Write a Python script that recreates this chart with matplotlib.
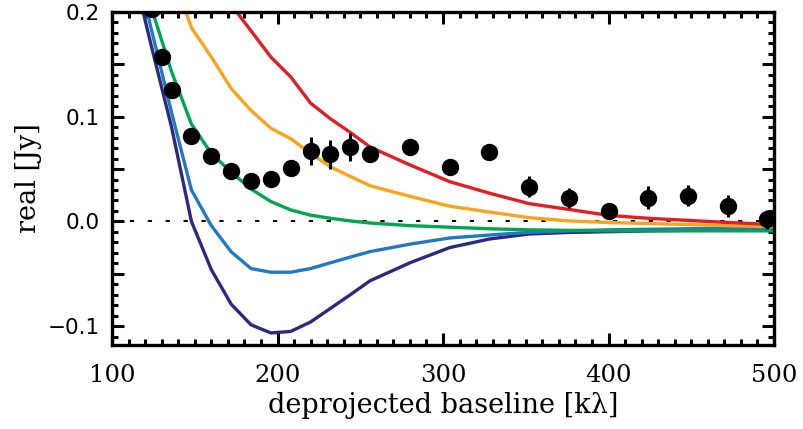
import numpy as np
import matplotlib
matplotlib.use("Agg")
import matplotlib.pyplot as plt
from matplotlib.ticker import MultipleLocator, FuncFormatter

# observed visibilities (real part)
uv = [124, 130, 136, 148, 160, 172, 184, 196, 208, 220, 232, 244, 256,
      280, 304, 328, 352, 376, 400, 424, 448, 472, 496]
re_obs = [0.203, 0.157, 0.1255, 0.082, 0.0625, 0.048, 0.039, 0.041, 0.051,
          0.067, 0.064, 0.071, 0.064, 0.071, 0.052, 0.0667, 0.0333, 0.0226,
          0.0097, 0.0226, 0.0246, 0.015, 0.002]
re_err = [0.006, 0.006, 0.006, 0.006, 0.006, 0.006, 0.006, 0.006, 0.006,
          0.0135, 0.0135, 0.013, 0.007, 0.006, 0.006, 0.006, 0.01, 0.0093,
          0.006, 0.011, 0.01, 0.0105, 0.009]

# model curves, sampled on the same grid
uv_mod = [112, 124, 136, 148, 160, 172, 184, 196, 208, 220, 232, 244, 256,
          280, 304, 328, 352, 376, 400, 424, 448, 472, 500]
mod_red = [0.40, 0.34, 0.29, 0.25, 0.235, 0.207, 0.182, 0.157, 0.138, 0.113,
           0.098, 0.085, 0.071, 0.054, 0.038, 0.027, 0.017, 0.0115, 0.0058,
           0.003, 0.001, -0.001, -0.003]
mod_orange = [0.36, 0.30, 0.24, 0.185, 0.157, 0.127, 0.106, 0.089, 0.079,
              0.065, 0.052, 0.043, 0.034, 0.024, 0.0146, 0.009, 0.0036,
              0.0005, -0.001, -0.002, -0.003, -0.004, -0.005]
mod_green = [0.28, 0.203, 0.143, 0.093, 0.065, 0.047, 0.031, 0.019, 0.011,
             0.006, 0.003, 0.0005, -0.0015, -0.004, -0.0055, -0.007, -0.008,
             -0.0085, -0.009, -0.009, -0.009, -0.009, -0.009]
mod_blue = [0.26, 0.182, 0.104, 0.030, -0.004, -0.029, -0.045, -0.0485,
            -0.0485, -0.045, -0.0395, -0.034, -0.0288, -0.0217, -0.0158,
            -0.013, -0.0104, -0.009, -0.008, -0.0075, -0.007, -0.0065, -0.006]
mod_navy = [0.245, 0.166, 0.09, 0.0, -0.046, -0.079, -0.0987, -0.1065,
            -0.105, -0.096, -0.083, -0.070, -0.0566, -0.0395, -0.025, -0.0168,
            -0.012, -0.0105, -0.0098, -0.009, -0.0085, -0.008, -0.008]

fig = plt.figure(figsize=(8.04, 4.29), dpi=100)
ax = fig.add_axes([0.1393, 0.1958, 0.8234, 0.7762])

ax.axhline(0, color='k', lw=1.4, ls=(0, (2.2, 7.0)), zorder=1)

lw = 2.4
ax.plot(uv_mod, mod_navy, color='#2b2a80', lw=lw, zorder=2)
ax.plot(uv_mod, mod_blue, color='#2079c5', lw=lw, zorder=2)
ax.plot(uv_mod, mod_green, color='#00a651', lw=lw, zorder=2)
ax.plot(uv_mod, mod_orange, color='#f9a51b', lw=lw, zorder=2)
ax.plot(uv_mod, mod_red, color='#e31d25', lw=lw, zorder=2)

ax.errorbar(uv, re_obs, yerr=re_err, fmt='o', color='k', ms=11.5,
            elinewidth=2.2, capsize=0, zorder=3, clip_on=True)

ax.set_xlim(100, 500)
ax.set_ylim(-0.118, 0.2)

ax.xaxis.set_major_locator(MultipleLocator(100))
ax.xaxis.set_minor_locator(MultipleLocator(10))
ax.yaxis.set_major_locator(MultipleLocator(0.05))
ax.yaxis.set_minor_locator(MultipleLocator(0.01))

def ylab(v, pos):
    if abs(round(v / 0.1) * 0.1 - v) < 1e-6:
        s = "%.1f" % v
        if s == "-0.0":
            s = "0.0"
        return s.replace("-", "\u2212")
    return ""

ax.yaxis.set_major_formatter(FuncFormatter(ylab))

ax.tick_params(which='both', direction='in', top=True, right=True, width=2.2)
ax.tick_params(which='major', length=8.5)
ax.tick_params(which='minor', length=4.5)
ax.tick_params(axis='x', pad=14)
ax.tick_params(axis='y', pad=9)

for sp in ax.spines.values():
    sp.set_linewidth(2.4)

for t in ax.get_xticklabels():
    t.set_fontfamily('DejaVu Serif')
    t.set_fontsize(17.5)
for t in ax.get_yticklabels():
    t.set_fontfamily('DejaVu Sans')
    t.set_fontsize(15.5)

ax.set_xlabel("deprojected baseline [k\u03bb]", fontfamily='DejaVu Serif',
              fontsize=19.5, labelpad=3)
ax.set_ylabel("real [Jy]", fontfamily='DejaVu Serif', fontsize=19.5,
              labelpad=4)

plt.savefig("out.png", dpi=100)
